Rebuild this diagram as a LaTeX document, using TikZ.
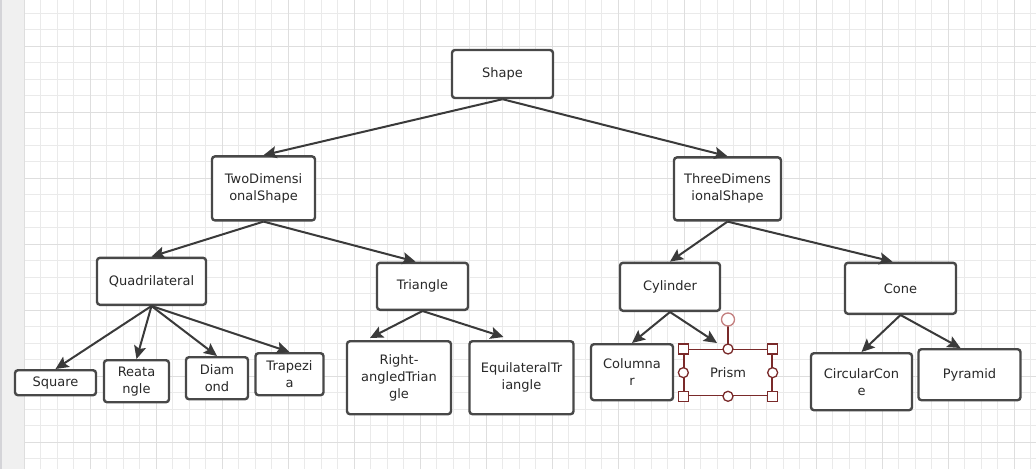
\documentclass[tikz,border=0pt]{standalone}
\usepackage{fontspec}
\setmainfont{DejaVu Sans}
\definecolor{boxline}{RGB}{72, 72, 72}
\definecolor{arrowline}{RGB}{58, 58, 58}
\definecolor{textgray}{RGB}{40, 40, 40}
\definecolor{gridminor}{RGB}{234, 234, 234}
\definecolor{gridmajor}{RGB}{222, 222, 222}
\definecolor{sidebar}{RGB}{240, 240, 240}
\definecolor{sideedge}{RGB}{212, 212, 216}
\definecolor{selred}{RGB}{122, 42, 42}
\definecolor{rotpink}{RGB}{196, 128, 128}
\usetikzlibrary{arrows.meta, positioning}

\begin{document}
\begin{tikzpicture}[x=1pt, y=1pt,
    every node/.style={font=\fontsize{13}{17}\selectfont, text=textgray},
    box/.style={draw=boxline, line width=2.4pt, rounded corners=3pt, fill=white, align=center, inner sep=0pt},
    link/.style={-{Stealth[length=13pt, width=12pt, inset=2.5pt]}, line width=2pt, arrowline},
    handle/.style={draw=selred, line width=1.3pt, fill=white}]
  % canvas
  \useasboundingbox (0,0) rectangle (1036,-469);
  \fill[white] (0,0) rectangle (1036,-469);
  \draw[gridminor, line width=0.9pt, shift={(24,-46)}, step=16.5pt] (0,-423) grid (1012,46);
  \draw[gridmajor, line width=1pt, shift={(24,-46)}, step=66pt] (0,-423) grid (1012,46);
  \fill[sidebar] (0,0) rectangle (23.5,-469);
  \fill[sideedge] (0,0) rectangle (2,-469);

  % tree
  \node[box, minimum width=101pt, minimum height=48pt] (shape) at (502.5,-74) {Shape};
  \node[box, minimum width=103pt, minimum height=64pt, below=56pt of shape, xshift=-239pt] (twodim) {TwoDimensi\\onalShape};
  \node[box, minimum width=107pt, minimum height=63pt, below=57pt of shape, xshift=225pt] (threedim) {ThreeDimens\\ionalShape};

  \node[box, minimum width=109pt, minimum height=47pt, below=35pt of twodim, xshift=-112pt] (quad) {Quadrilateral};
  \node[box, minimum width=91pt, minimum height=47pt, below=40pt of twodim, xshift=159pt] (tri) {Triangle};
  \node[box, minimum width=100pt, minimum height=48pt, below=40pt of threedim, xshift=-57.5pt] (cyl) {Cylinder};
  \node[box, minimum width=111pt, minimum height=51pt, below=40pt of threedim, xshift=173pt] (cone) {Cone};

  \node[box, minimum width=81pt, minimum height=25pt, below=63pt of quad, xshift=-96pt] (square) {Square};
  \node[box, minimum width=65pt, minimum height=42pt, below=53pt of quad, xshift=-15pt] (reat) {Reata\\ngle};
  \node[box, minimum width=62pt, minimum height=42pt, below=50pt of quad, xshift=65.5pt] (diam) {Diam\\ond};
  \node[box, minimum width=68pt, minimum height=42pt, below=46pt of quad, xshift=138pt] (trap) {Trapezi\\a};

  \node[box, minimum width=104pt, minimum height=73pt, below=29pt of tri, xshift=-23.5pt] (rat) {Right-\\angledTrian\\gle};
  \node[box, minimum width=104pt, minimum height=73pt, below=29pt of tri, xshift=99pt] (eqt) {EquilateralTr\\iangle};

  \node[box, minimum width=82pt, minimum height=56pt, below=31pt of cyl, xshift=-38pt] (col) {Columna\\r};
  \node[draw=selred, line width=1.3pt, fill=white, inner sep=0pt, minimum width=88pt, minimum height=46pt, below=37pt of cyl, xshift=58pt] (prism) {Prism};

  \node[box, minimum width=101pt, minimum height=57pt, below=37pt of cone, xshift=-39pt] (ccone) {CircularCon\\e};
  \node[box, minimum width=102pt, minimum height=51pt, below=33pt of cone, xshift=69pt] (pyr) {Pyramid};

  \draw[link] (shape.south) -- (twodim.north);
  \draw[link] (shape.south) -- (threedim.north);
  \draw[link] (twodim.south) -- (quad.north);
  \draw[link] (twodim.south) -- ([xshift=-7pt]tri.north);
  \draw[link] (threedim.south) -- (cyl.north);
  \draw[link] (threedim.south) -- ([xshift=-8pt]cone.north);
  \draw[link] (quad.south) -- (square.north);
  \draw[link] (quad.south) -- (reat.north);
  \draw[link] (quad.south) -- (diam.north);
  \draw[link] (quad.south) -- (trap.north);
  \draw[link] (tri.south) -- ([xshift=-29pt, yshift=2pt]rat.north);
  \draw[link] (tri.south) -- ([xshift=-18pt, yshift=3pt]eqt.north);
  \draw[link] (cyl.south) -- (col.north);
  \draw[link] (cyl.south) -- ([xshift=-11pt, yshift=6pt]prism.north);
  \draw[link] (cone.south) -- (ccone.north);
  \draw[link] (cone.south) -- ([xshift=-9pt]pyr.north);

  % selection handles on Prism
  \draw[selred, line width=1.3pt] (prism.north) -- ([yshift=23pt]prism.north);
  \draw[rotpink, line width=1.3pt, fill=white] ([yshift=29.5pt]prism.north) circle (6.5);
  \foreach \corner in {north west, north east, south west, south east}
    \draw[handle] ([shift={(-5,-5)}]prism.\corner) rectangle ([shift={(5,5)}]prism.\corner);
  \foreach \side in {north, south, west, east}
    \draw[handle] (prism.\side) circle (5);
\end{tikzpicture}
\end{document}
